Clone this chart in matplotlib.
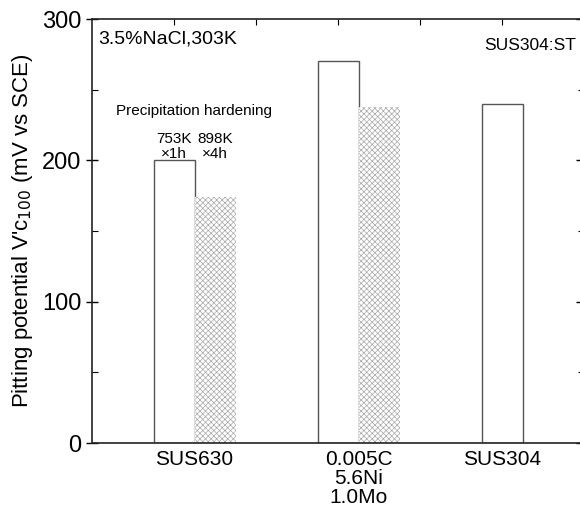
import matplotlib
matplotlib.use("Agg")
import matplotlib.pyplot as plt
from matplotlib.ticker import MultipleLocator
import matplotlib.transforms as mtransforms

plt.rcParams['font.family'] = ['Liberation Sans', 'DejaVu Sans']
plt.rcParams['hatch.linewidth'] = 0.5

# data
groups = ["SUS630", "0.005C\n5.6Ni\n1.0Mo", "SUS304"]
group_pos = [1.25, 3.25, 5.0]
plain_pos = [1.0, 3.0, 5.0]
plain_vals = [200, 270, 240]
hatched_pos = [1.5, 3.5]
hatched_vals = [174, 238]

fig = plt.figure(figsize=(5.8, 5.08), dpi=100)
ax = fig.add_axes([92 / 580, 65 / 508, 492 / 580, 424 / 508])

ax.bar(plain_pos, plain_vals, width=0.5, facecolor='white',
       edgecolor='#555555', linewidth=1.0, zorder=2)
ax.bar(hatched_pos, hatched_vals, width=0.5, facecolor='white',
       edgecolor='#a8a8a8', linewidth=0, hatch='xxxxxx', zorder=2)

ax.set_xlim(0, 6)
ax.set_ylim(0, 300)

# y axis ticks
ax.yaxis.set_major_locator(MultipleLocator(100))
ax.yaxis.set_minor_locator(MultipleLocator(50))
ax.tick_params(axis='y', which='major', direction='inout', length=9, width=1.0,
               labelsize=17, pad=3)
ax.tick_params(axis='y', which='minor', direction='in', length=4, width=0.8)
ax.tick_params(axis='y', which='both', right=True)
# right-side major ticks point inward
for t in ax.yaxis.get_major_ticks():
    t.tick2line.set_marker(matplotlib.lines.TICKLEFT)
    t.tick2line.set_markersize(6)

# top ticks only
ax.set_xticks([1, 2, 3, 4, 5])
ax.set_xticklabels([])
ax.tick_params(axis='x', which='both', bottom=False, top=True, direction='in',
               length=4, width=0.8)

for s in ax.spines.values():
    s.set_linewidth(1.2)
    s.set_color('#222222')

# category labels under the axis
trans = mtransforms.blended_transform_factory(ax.transData, ax.transAxes)
for x, lab in zip(group_pos, groups):
    ax.text(x, -0.016, lab, transform=trans, ha='center', va='top',
            fontsize=15, linespacing=1.0)

ax.set_ylabel("Pitting potential V'c$_{100}$ (mV vs SCE)", fontsize=16,
              labelpad=5)

ax.text(0.012, 0.972, "3.5%NaCl,303K", transform=ax.transAxes, ha='left',
        va='top', fontsize=14)
ax.text(0.983, 0.955, "SUS304:ST", transform=ax.transAxes, ha='right',
        va='top', fontsize=12.5)
ax.text(1.25, 235, "Precipitation hardening", ha='center', va='center',
        fontsize=11)
ax.text(1.0, 210, "753K\n×1h", ha='center', va='center', fontsize=11,
        linespacing=1.1)
ax.text(1.5, 210, "898K\n×4h", ha='center', va='center', fontsize=11,
        linespacing=1.1)

fig.savefig("out.png", dpi=100)
